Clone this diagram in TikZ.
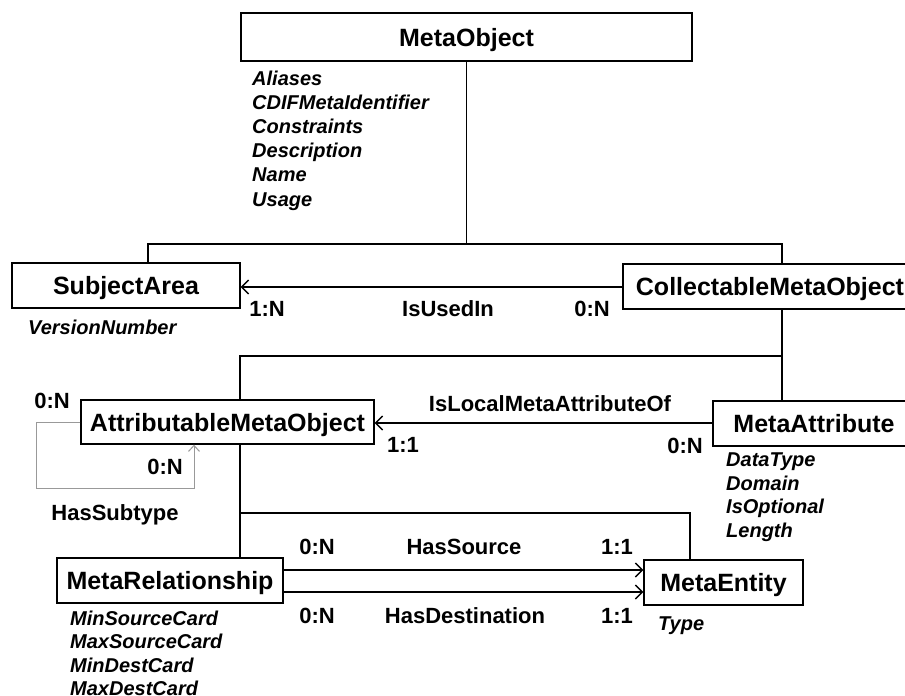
\documentclass[tikz,border=0pt]{standalone}
\usepackage{fontspec}
\setmainfont{Liberation Sans}
\usetikzlibrary{arrows.meta}
\begin{document}
\begin{tikzpicture}[x=1pt,y=-1pt,
  cls/.style={draw, line width=1.4pt, fill=white, inner sep=0pt,
    font=\fontsize{25}{30}\selectfont\bfseries, text height=18pt, text depth=0pt},
  attrs/.style={anchor=north west, inner sep=0pt, align=left,
    font=\fontsize{20}{23.5}\selectfont\bfseries\itshape},
  attr/.style={anchor=base west, inner sep=0pt,
    font=\fontsize{20}{23.5}\selectfont\bfseries\itshape},
  lbl/.style={anchor=base, inner sep=0pt, font=\fontsize{22}{26}\selectfont\bfseries},
  tree/.style={line width=1.4pt},
  assoc/.style={line width=1.4pt, -{Straight Barb[length=7pt,width=14pt]}},
  selfloop/.style={line width=1pt, draw=black!40, -{Straight Barb[length=6pt,width=11pt]}},
]
\useasboundingbox (0,0) rectangle (905,696);
\fill[white] (0,0) rectangle (905,696);

% classes
\node[cls, minimum width=451pt, minimum height=48pt] (mo)  at (466.5,37)  {MetaObject};
\node[cls, minimum width=228pt, minimum height=45pt] (sa)  at (126,285.5) {SubjectArea};
\node[cls, minimum width=294pt, minimum height=45pt] (cmo) at (770,286.5) {CollectableMetaObject};
\node[cls, minimum width=293pt, minimum height=44pt] (amo) at (227.5,422) {AttributableMetaObject};
\node[cls, minimum width=202pt, minimum height=45pt] (ma)  at (814,423.5) {MetaAttribute};
\node[cls, minimum width=226pt, minimum height=45pt] (mr)  at (170,580.5) {MetaRelationship};
\node[cls, minimum width=159pt, minimum height=45pt] (me)  at (723.5,582.5) {MetaEntity};

% attributes
\node[attrs, font=\fontsize{20}{24.2}\selectfont\bfseries\itshape] (moA) at (252,70.5)
  {Aliases\\CDIFMetaIdentifier\\Constraints\\Description\\Name\\Usage};
\node[attr] (saA) at (28,334) {VersionNumber};
\node[attrs] (maA) at (726,452.7) {DataType\\Domain\\IsOptional\\Length};
\node[attrs, font=\fontsize{20}{23.6}\selectfont\bfseries\itshape] (mrA) at (70,610.4)
  {MinSourceCard\\MaxSourceCard\\MinDestCard\\MaxDestCard};
\node[attr] (meA) at (658,630) {Type};

% generalisation trees
\coordinate (t1) at (148,244);
\coordinate (t2) at (782,244);
\draw[tree] (mo.south) -- (mo.south |- t1);
\draw[tree] (sa.north -| t1) -- (t1) -- (t2) -- (cmo.north -| t2);

\coordinate (t3) at (240,356);
\coordinate (t4) at (782,356);
\draw[tree] (cmo.south -| t4) -- (ma.north -| t4);
\draw[tree] (t4) -- (t3) -- (amo.north -| t3);

\coordinate (t5) at (240,513);
\coordinate (t6) at (690,513);
\draw[tree] (amo.south -| t5) -- (mr.north -| t5);
\draw[tree] (t5) -- (t6) -- (me.north -| t6);

% associations
\coordinate (r1) at (0,287);
\coordinate (r2) at (0,423);
\coordinate (r3) at (0,570);
\coordinate (r4) at (0,592);
\draw[assoc] (cmo.west |- r1) -- (sa.east |- r1);
\draw[assoc] (ma.west |- r2) -- (amo.east |- r2);
\draw[assoc] (mr.east |- r3) -- (me.west |- r3);
\draw[assoc] (mr.east |- r4) -- (me.west |- r4);

% self association
\coordinate (s1) at (36,422);
\coordinate (s2) at (36,488);
\coordinate (s3) at (194,488);
\draw[selfloop] (amo.west |- s1) -- (s1) -- (s2) -- (s3) -- (amo.south -| s3);

% association labels
\node[lbl] (c1) at (267,316) {1:N};
\node[lbl] (n1) at (448,316) {IsUsedIn};
\node[lbl] (c2) at (592,316) {0:N};
\node[lbl] (n2) at (550,411) {IsLocalMetaAttributeOf};
\node[lbl] (c3) at (403,452) {1:1};
\node[lbl] (c4) at (685,453) {0:N};
\node[lbl] (c5) at (52,408) {0:N};
\node[lbl] (c6) at (165,474) {0:N};
\node[lbl] (n3) at (115,520) {HasSubtype};
\node[lbl] (c7) at (317,554) {0:N};
\node[lbl] (n4) at (464,554) {HasSource};
\node[lbl] (c8) at (617,554) {1:1};
\node[lbl] (c9) at (317,623) {0:N};
\node[lbl] (n5) at (465,623) {HasDestination};
\node[lbl] (c10) at (617,623) {1:1};
\end{tikzpicture}
\end{document}
